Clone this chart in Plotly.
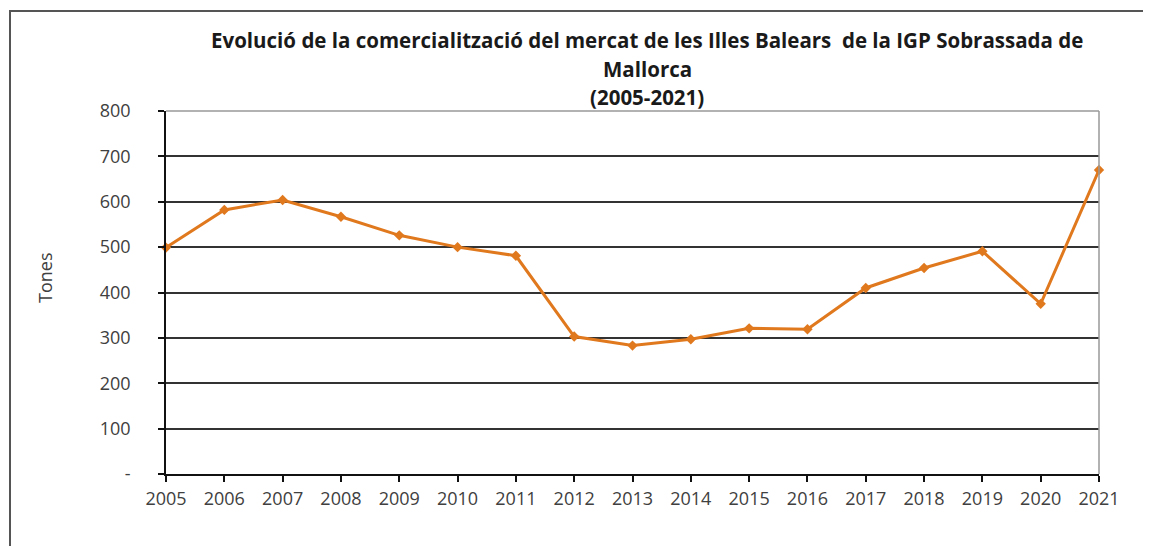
import plotly.graph_objects as go

years = [2005, 2006, 2007, 2008, 2009, 2010, 2011, 2012, 2013, 2014, 2015, 2016, 2017, 2018, 2019, 2020, 2021]
tones = [499, 582, 604, 567, 526, 500, 481, 303, 283, 297, 321, 319, 410, 454, 491, 375, 670]
y_tickvals = [0, 100, 200, 300, 400, 500, 600, 700, 800]
y_ticktext = ["-", "100", "200", "300", "400", "500", "600", "700", "800"]
title_lines = [
    "Evolució de la comercialització del mercat de les Illes Balears  de la IGP Sobrassada de",
    "Mallorca",
    "(2005-2021)",
]
y_title = "Tones"

OFF = 8  # page body margin
W, H = 1151 - OFF, 546 - OFF
# plot area in screen pixels
L, R, T, B = 166, 1099, 111, 474

def px_x(p):
    return (p - L) / (R - L)

def px_y(p):
    return (B - p) / (B - T)

fig = go.Figure()
fig.add_trace(go.Scatter(
    x=years, y=tones, mode="lines+markers",
    line=dict(color="#E0781E", width=3),
    marker=dict(symbol="diamond", size=8, color="#E0781E"),
    showlegend=False, cliponaxis=False,
))

# outer frame
fig.add_shape(type="rect", xref="paper", yref="paper",
              x0=px_x(10), y0=px_y(620), x1=px_x(1250), y1=px_y(11),
              line=dict(color="#555555", width=2), layer="below")
# top and right plot borders (grey)
fig.add_shape(type="line", xref="paper", yref="paper", x0=0, x1=1, y0=1, y1=1,
              line=dict(color="#999999", width=1.5), layer="above")
fig.add_shape(type="line", xref="paper", yref="paper", x0=1, x1=1, y0=0, y1=1,
              line=dict(color="#999999", width=1.5), layer="above")

ys = [40, 69, 97]
for txt, yy in zip(title_lines, ys):
    fig.add_annotation(text="<b>" + txt + "</b>", x=px_x(647), y=px_y(yy),
                       xref="paper", yref="paper", showarrow=False,
                       xanchor="center", yanchor="middle",
                       font=dict(family="Open Sans", size=20.5, color="#1a1a1a"))

fig.add_annotation(text=y_title, x=px_x(45), y=px_y(278), xref="paper", yref="paper",
                   showarrow=False, textangle=-90, xanchor="center", yanchor="middle",
                   font=dict(family="Open Sans", size=18, color="#404040"))

fig.update_layout(
    width=W, height=H,
    margin=dict(l=L - OFF, r=W - (R - OFF), t=T - OFF, b=H - (B - OFF)),
    paper_bgcolor="white", plot_bgcolor="white",
    font=dict(family="Open Sans", size=18, color="#404040"),
)
fig.update_xaxes(
    range=[2005, 2021], tickmode="array", tickvals=years,
    ticktext=[str(y) for y in years],
    showgrid=False, zeroline=False,
    showline=True, linecolor="#111111", linewidth=1.5,
    ticks="outside", ticklen=6, tickcolor="#111111", tickwidth=1.5,
    tickfont=dict(family="Open Sans", size=18, color="#404040"),
    ticklabelstandoff=2,
)
fig.update_yaxes(
    range=[0, 800], tickmode="array", tickvals=y_tickvals, ticktext=y_ticktext,
    showgrid=True, gridcolor="#333333", gridwidth=1.5, zeroline=False,
    showline=True, linecolor="#111111", linewidth=1.5,
    ticks="outside", ticklen=6, tickcolor="#111111", tickwidth=1.5,
    tickfont=dict(family="Open Sans", size=18, color="#404040"),
    ticklabelstandoff=24,
)
fig.write_html("out.html")
